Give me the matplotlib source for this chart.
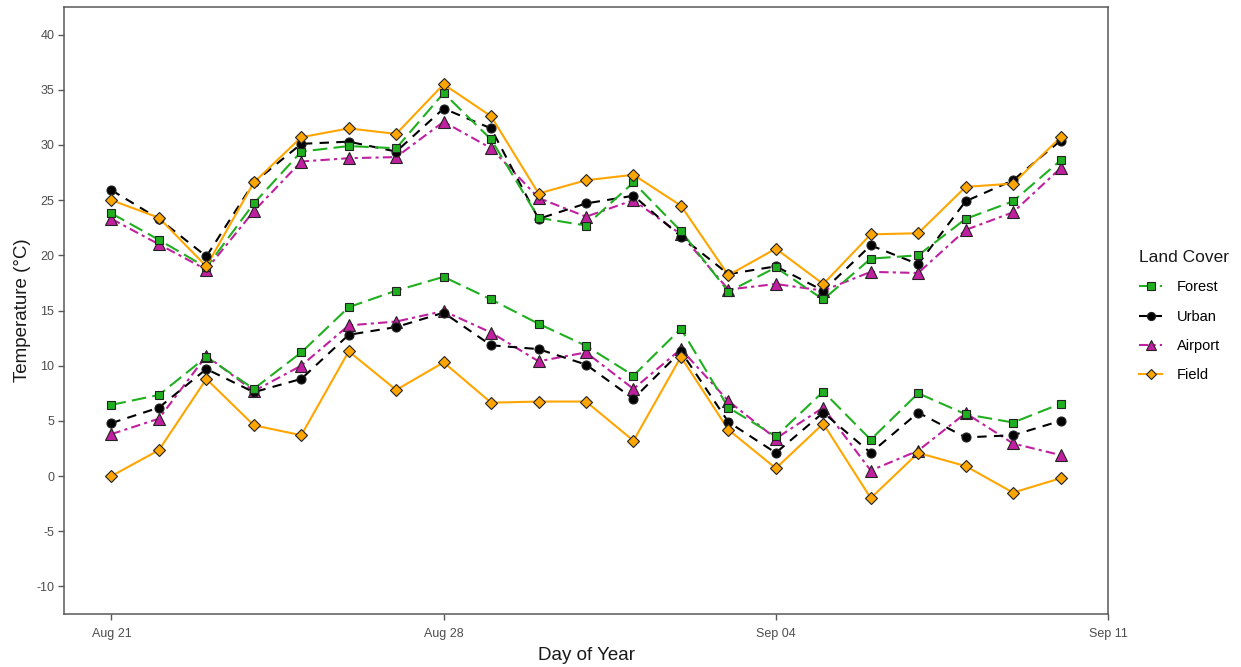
import matplotlib
matplotlib.use("Agg")
import matplotlib.pyplot as plt
import matplotlib.dates as mdates
from matplotlib.lines import Line2D
import pandas as pd
import numpy as np

plt.rcParams['font.family'] = ['Liberation Sans', 'DejaVu Sans']
plt.rcParams['axes.unicode_minus'] = False

dates = pd.date_range("2023-08-21", "2023-09-10", freq="D")

land_covers = ["Forest", "Urban", "Airport", "Field"]

forest_max = [23.8, 21.4, 18.9, 24.7, 29.4, 29.9, 29.7, 34.7, 30.5, 23.4, 22.7, 26.6, 22.2, 16.7, 18.9, 16.0, 19.7, 20.0, 23.3, 24.9, 28.6]
urban_max = [25.9, 23.3, 19.9, 26.6, 30.1, 30.3, 29.4, 33.3, 31.5, 23.3, 24.7, 25.4, 21.7, 18.3, 19.0, 16.8, 20.9, 19.2, 24.9, 26.8, 30.4]
airport_max = [23.3, 21.0, 18.7, 24.0, 28.5, 28.8, 28.9, 32.1, 29.7, 25.2, 23.5, 25.0, 21.9, 16.9, 17.4, 16.8, 18.5, 18.4, 22.3, 23.9, 27.9]
field_max = [25.0, 23.4, 19.0, 26.6, 30.7, 31.5, 31.0, 35.5, 32.6, 25.6, 26.8, 27.3, 24.5, 18.2, 20.6, 17.4, 21.9, 22.0, 26.2, 26.5, 30.7]

forest_min = [6.45, 7.35, 10.8, 7.9, 11.2, 15.3, 16.8, 18.05, 16.0, 13.8, 11.8, 9.1, 13.35, 6.2, 3.6, 7.65, 3.3, 7.5, 5.6, 4.85, 6.55]
urban_min = [4.8, 6.2, 9.7, 7.6, 8.8, 12.8, 13.5, 14.8, 11.85, 11.5, 10.1, 7.0, 11.3, 4.9, 2.1, 5.75, 2.1, 5.75, 3.5, 3.7, 5.0]
airport_min = [3.8, 5.2, 10.9, 7.7, 10.0, 13.65, 14.0, 14.95, 13.0, 10.4, 11.2, 7.9, 11.5, 6.8, 3.4, 6.2, 0.5, 2.3, 5.7, 2.95, 1.9]
field_min = [0.0, 2.35, 8.8, 4.6, 3.7, 11.3, 7.8, 10.3, 6.65, 6.75, 6.75, 3.2, 10.8, 4.2, 0.7, 4.75, -2.0, 2.1, 0.9, -1.5, -0.2]

series = {
    "Forest": (forest_max, forest_min),
    "Urban": (urban_max, urban_min),
    "Airport": (airport_max, airport_min),
    "Field": (field_max, field_min),
}

styles = {
    "Forest": dict(color="#1FAF1F", marker="s", ms=6, ls=(0, (7, 3))),
    "Urban": dict(color="#000000", marker="o", ms=6.5, ls=(0, (4.5, 3.5))),
    "Airport": dict(color="#C0209F", marker="^", ms=8, ls=(0, (4.5, 2, 1.5, 2))),
    "Field": dict(color="#FFA500", marker="D", ms=5.8, ls="-"),
}

fig = plt.figure(figsize=(12.41, 6.67), dpi=100)
ax = fig.add_axes([64 / 1241, 53 / 667, (1108 - 64) / 1241, (614 - 7) / 667])

draw_order = ["Airport", "Urban", "Forest", "Field"]
for name in draw_order:
    st = styles[name]
    for vals in series[name]:
        ax.plot(dates, vals, color=st["color"], ls=st["ls"], lw=1.5, zorder=2)
for name in draw_order:
    st = styles[name]
    fc = st["color"]
    for vals in series[name]:
        ax.plot(dates, vals, ls="none", marker=st["marker"], ms=st["ms"],
                mfc=fc, mec="#222222", mew=0.8, zorder=3)

ax.set_xlim(pd.Timestamp("2023-08-20"), pd.Timestamp("2023-09-11"))
ax.set_ylim(-12.5, 42.5)
ax.set_yticks(np.arange(-10, 41, 5))
xt = pd.to_datetime(["2023-08-21", "2023-08-28", "2023-09-04", "2023-09-11"])
ax.set_xticks(xt)
ax.set_xticklabels([d.strftime("%b %d") for d in xt])

for sp in ax.spines.values():
    sp.set_color("#595959")
    sp.set_linewidth(1.1)
ax.tick_params(axis="both", colors="#595959", labelcolor="#4D4D4D", labelsize=9, length=4, width=1)
ax.tick_params(axis="x", pad=6)
ax.tick_params(axis="y", pad=3)

ax.set_xlabel("Day of Year", fontsize=13.5, color="#1a1a1a", labelpad=5)
ax.set_ylabel("Temperature (°C)", fontsize=13.5, color="#1a1a1a", labelpad=4)

handles = []
for name in land_covers:
    st = styles[name]
    handles.append(Line2D([0], [0], color=st["color"], ls=st["ls"], lw=1.5,
                          marker=st["marker"], ms=st["ms"] * 0.9, mfc=st["color"],
                          mec="#222222", mew=0.8))
leg = fig.legend(handles, land_covers, title="Land Cover", loc="upper left",
                 bbox_to_anchor=(1126 / 1241, 1 - 237 / 667), frameon=False,
                 fontsize=10.5, title_fontsize=12.5, handlelength=1.6,
                 labelspacing=1.05, handletextpad=1.0, alignment="left")
leg.get_title().set_color("#1a1a1a")

fig.savefig("out.png", dpi=100)
